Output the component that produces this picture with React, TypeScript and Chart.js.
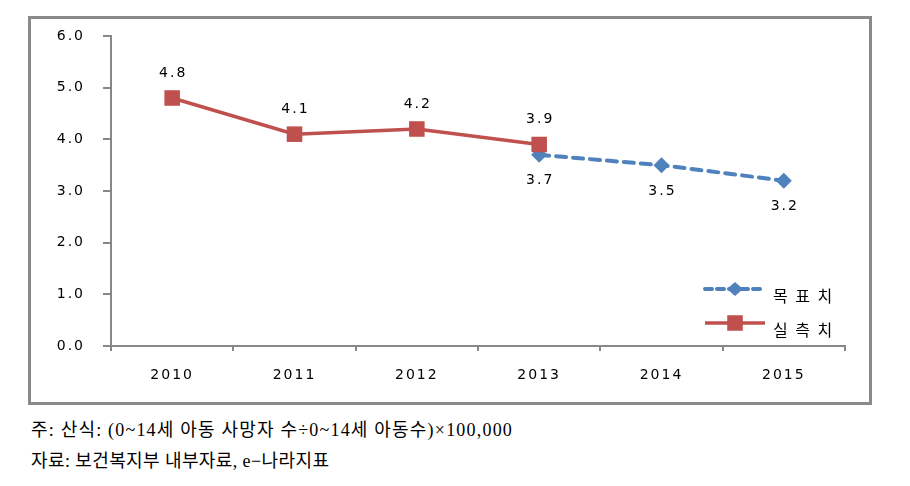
import React, { useEffect, useRef } from "react";
import { Chart, registerables } from "chart.js";

Chart.register(...registerables);

const categories = ["2010", "2011", "2012", "2013", "2014", "2015"];
const actualValues: (number | null)[] = [4.8, 4.1, 4.2, 3.9, null, null];
const targetValues: (number | null)[] = [null, null, null, 3.7, 3.5, 3.2];
const yTicks = [0, 1, 2, 3, 4, 5, 6];
const actualLabel = "실 측 치";
const targetLabel = "목 표 치";
const note1 = "주: 산식: (0~14세 아동 사망자 수÷0~14세 아동수)×100,000";
const note2 = "자료: 보건복지부 내부자료, e−나라지표";

const RED = "#C0504D";
const BLUE = "#4F81BD";
const AXIS = "#878787";
const LABEL_FONT = "14px 'DejaVu Sans'";

const spacingPlugin = {
  id: "spacing",
  beforeDraw(chart: any) {
    (chart.ctx as any).letterSpacing = "2px";
  },
  afterDraw(chart: any) {
    (chart.ctx as any).letterSpacing = "0px";
  },
};

const dataLabelPlugin = {
  id: "dataLabels",
  afterDatasetsDraw(chart: any) {
    const ctx = chart.ctx;
    ctx.save();
    (ctx as any).letterSpacing = "2px";
    ctx.font = LABEL_FONT;
    ctx.fillStyle = "#000";
    ctx.textAlign = "center";
    ctx.textBaseline = "middle";
    chart.data.datasets.forEach((ds: any, di: number) => {
      const meta = chart.getDatasetMeta(di);
      ds.data.forEach((v: number | null, i: number) => {
        if (v === null || v === undefined) return;
        const el = meta.data[i];
        const dy = ds.labelPos === "below" ? 26 : -25;
        ctx.fillText(v.toFixed(1), el.x + 1, el.y + dy);
      });
    });
    ctx.restore();
  },
};

const legendPlugin = {
  id: "customLegend",
  afterDraw(chart: any) {
    const ctx = chart.ctx;
    const area = chart.chartArea;
    const x0 = area.right - 140;
    const x1 = area.right - 80;
    const mx = area.right - 110;
    const tx = area.right - 72;
    const rows = [
      { label: targetLabel, color: BLUE, y: area.bottom - 57, dash: [7, 5], style: "rectRot", r: 7, w: 4 },
      { label: actualLabel, color: RED, y: area.bottom - 23, dash: [], style: "rect", r: 11, w: 3.5 },
    ];
    ctx.save();
    rows.forEach((row) => {
      ctx.strokeStyle = row.color;
      ctx.lineWidth = row.w;
      ctx.lineCap = row.dash.length ? "round" : "butt";
      ctx.setLineDash(row.dash);
      ctx.beginPath();
      ctx.moveTo(x0, row.y);
      ctx.lineTo(x1, row.y);
      ctx.stroke();
      ctx.setLineDash([]);
      ctx.fillStyle = row.color;
      ctx.beginPath();
      if (row.style === "rect") {
        const s = row.r * Math.SQRT1_2;
        ctx.rect(mx - s, row.y - s, 2 * s, 2 * s);
      } else {
        ctx.moveTo(mx, row.y - row.r);
        ctx.lineTo(mx + row.r + 1, row.y);
        ctx.lineTo(mx, row.y + row.r);
        ctx.lineTo(mx - row.r - 1, row.y);
        ctx.closePath();
      }
      ctx.fill();
      (ctx as any).letterSpacing = "2px";
      ctx.font = "16px 'Noto Sans CJK KR'";
      ctx.fillStyle = "#000";
      ctx.textAlign = "left";
      ctx.textBaseline = "middle";
      ctx.fillText(row.label, tx, row.y + 7);
    });
    ctx.restore();
  },
};

export default function App() {
  const canvasRef = useRef<HTMLCanvasElement | null>(null);

  useEffect(() => {
    if (!canvasRef.current) return;
    const chart = new Chart(canvasRef.current, {
      type: "line",
      data: {
        labels: categories,
        datasets: [
          {
            label: actualLabel,
            data: actualValues,
            borderColor: RED,
            backgroundColor: RED,
            borderWidth: 3.5,
            pointStyle: "rect",
            pointRadius: 11,
            pointHoverRadius: 11,
            pointBorderWidth: 0,
            spanGaps: false,
            labelPos: "above",
          } as any,
          {
            label: targetLabel,
            data: targetValues,
            borderColor: BLUE,
            backgroundColor: BLUE,
            borderWidth: 4,
            borderDash: [10, 7],
            borderCapStyle: "round",
            pointStyle: "rectRot",
            pointRadius: 8,
            pointHoverRadius: 8,
            pointBorderWidth: 0,
            labelPos: "below",
          } as any,
        ],
      },
      options: {
        responsive: false,
        animation: false,
        layout: { padding: { top: 17, right: 24, left: 0, bottom: 0 } },
        plugins: {
          legend: { display: false },
          tooltip: { enabled: false },
        },
        scales: {
          x: {
            offset: true,
            grid: {
              drawOnChartArea: false,
              drawTicks: true,
              tickLength: 5,
              offset: true,
              color: AXIS,
              lineWidth: 2,
            },
            border: { display: true, color: AXIS, width: 2 },
            ticks: {
              padding: 16,
              color: "#000",
              font: { family: "'DejaVu Sans'", size: 14 },
            },
            afterFit: (s: any) => {
              s.height = 56;
              s.paddingLeft = 0;
              s.paddingRight = 0;
            },
          },
          y: {
            min: 0,
            max: 6,
            afterBuildTicks: (s: any) => {
              s.ticks = yTicks.map((v) => ({ value: v }));
            },
            grid: {
              drawOnChartArea: false,
              drawTicks: true,
              tickLength: 8,
              color: AXIS,
              lineWidth: 2,
            },
            border: { display: true, color: AXIS, width: 2 },
            ticks: {
              padding: 18,
              color: "#000",
              font: { family: "'DejaVu Sans'", size: 14 },
              callback: (v: any) => Number(v).toFixed(1),
            },
            afterFit: (s: any) => {
              s.width = 80;
              s.paddingTop = 0;
              s.paddingBottom = 0;
            },
          },
        },
      },
      plugins: [spacingPlugin, dataLabelPlugin, legendPlugin],
    });
    return () => chart.destroy();
  }, []);

  const noteStyle: React.CSSProperties = {
    position: "absolute",
    left: 31,
    fontFamily: "'Liberation Serif', 'Noto Sans CJK KR', serif",
    fontSize: 18,
    letterSpacing: "1.2px",
    lineHeight: "22px",
    color: "#000",
    whiteSpace: "nowrap",
  };

  return (
    <div style={{ position: "absolute", left: 0, top: 0, width: 910, height: 486, background: "#fff" }}>
      <div
        style={{
          position: "absolute",
          left: 28,
          top: 16,
          width: 844,
          height: 389,
          border: "3px solid #8a8a8a",
          boxSizing: "border-box",
        }}
      />
      <canvas
        ref={canvasRef}
        width={838}
        height={383}
        style={{ position: "absolute", left: 31, top: 19, width: 838, height: 383 }}
      />
      <div style={{ ...noteStyle, top: 419 }}>{note1}</div>
      <div style={{ ...noteStyle, top: 450, letterSpacing: "0.4px" }}>{note2}</div>
    </div>
  );
}
